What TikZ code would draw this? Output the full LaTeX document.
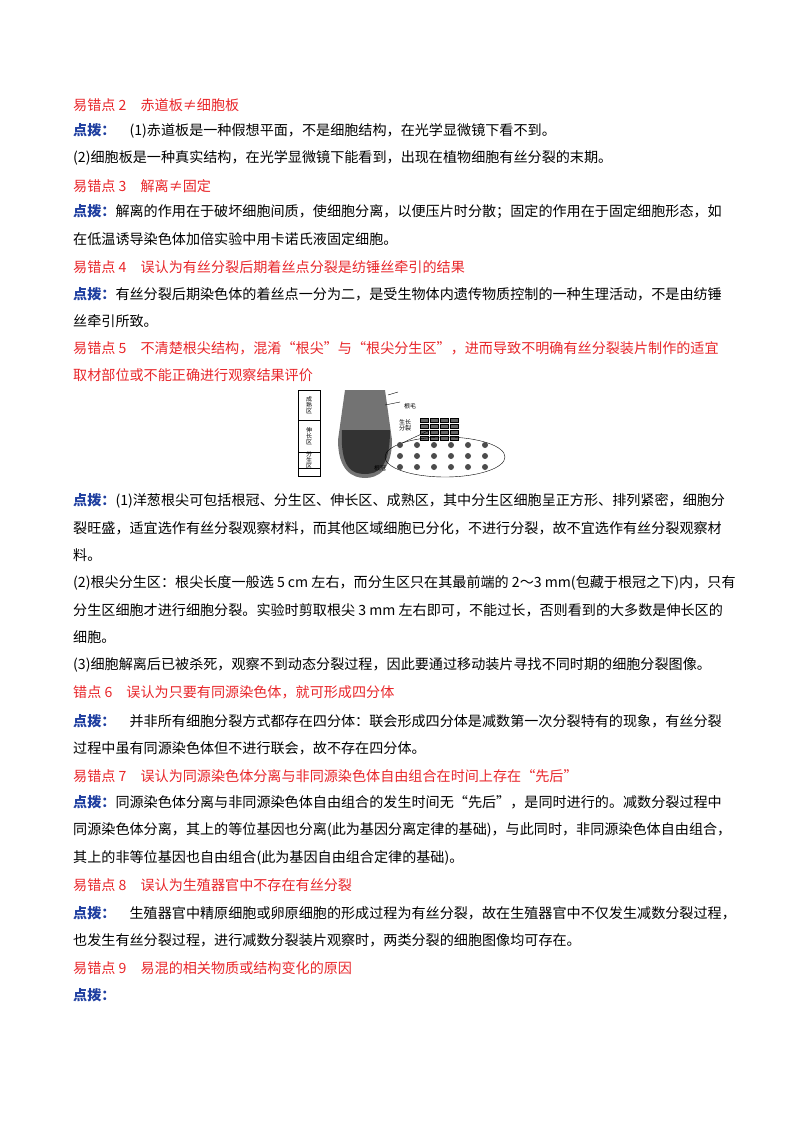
\documentclass[tikz,border=0pt]{standalone}
\usepackage{fontspec}
\setmainfont{Liberation Serif}
\newfontfamily\cjk{Noto Sans CJK SC}
\definecolor{hred}{HTML}{E8262A}
\definecolor{hblue}{HTML}{1F3FA0}
\begin{document}
\begin{tikzpicture}[x=1pt,y=-1pt,
  ln/.style={anchor=west,inner sep=0pt,font=\cjk\fontsize{14.1}{14.1}\selectfont},
  hd/.style={ln,text=hred},
  lab/.style={inner sep=0pt,font=\cjk\fontsize{6}{6}\selectfont}]
\useasboundingbox (0,0) rectangle (800,1132);
\node[hd] (h2) at (73,105) {易错点 2\quad 赤道板≠细胞板};
\node[ln] (a1) at (73,131) {\textcolor{hblue}{\bfseries 点拨：}\quad (1)赤道板是一种假想平面，不是细胞结构，在光学显微镜下看不到。};
\node[ln] (a2) at (73,158) {(2)细胞板是一种真实结构，在光学显微镜下能看到，出现在植物细胞有丝分裂的末期。};
\node[hd] (h3) at (73,186) {易错点 3\quad 解离≠固定};
\node[ln] (b1) at (73,212) {\textcolor{hblue}{\bfseries 点拨：}解离的作用在于破坏细胞间质，使细胞分离，以便压片时分散；固定的作用在于固定细胞形态，如};
\node[ln] (b2) at (73,239) {在低温诱导染色体加倍实验中用卡诺氏液固定细胞。};
\node[hd] (h4) at (73,267) {易错点 4\quad 误认为有丝分裂后期着丝点分裂是纺锤丝牵引的结果};
\node[ln] (c1) at (73,294) {\textcolor{hblue}{\bfseries 点拨：}有丝分裂后期染色体的着丝点一分为二，是受生物体内遗传物质控制的一种生理活动，不是由纺锤};
\node[ln] (c2) at (73,321) {丝牵引所致。};
\node[hd] (h5) at (73,348) {易错点 5\quad 不清楚根尖结构，混淆“根尖”与“根尖分生区”，进而导致不明确有丝分裂装片制作的适宜};
\node[hd] (h5b) at (73,375) {取材部位或不能正确进行观察结果评价};
% figure
\begin{scope}
\draw[thin] (298,390) rectangle (320,476);
\foreach \yy in {420,452,468} \draw[thin] (298,\yy) -- (320,\yy);
\node[lab,align=center] (z1) at (309,405) {成\\熟\\区};
\node[lab,align=center] (z2) at (309,436) {伸\\长\\区};
\node[lab,align=center] (z3) at (309,460) {分\\生\\区};
\fill[black!55] (345,390) -- (385,390) -- (392,440) .. controls (392,470) and (378,478) .. (365,478) .. controls (352,478) and (338,470) .. (338,440) -- cycle;
\fill[black!80] (342,430) -- (390,430) .. controls (390,468) and (378,474) .. (365,474) .. controls (352,474) and (340,468) .. (342,430) -- cycle;
\draw (385,405) -- (400,402);
\draw (388,395) -- (398,392);
\node[lab] (mh) at (410,406) {根毛};
\node[lab,align=center] (f1) at (405,425) {生长\\分裂};
\foreach \i in {0,...,3} \foreach \j in {0,...,3}
  \draw[fill=black!60] (420+\i*10,418+\j*6) rectangle +(8,4);
\draw (398,445) -- (430,430);
\draw[thin] (445,457) ellipse (60 and 20);
\foreach \i in {0,...,5} \foreach \j in {0,...,2}
  \fill[black!70] (400+\i*17,445+\j*11) circle (3);
\node[lab,align=center] (gg) at (380,468) {根冠};
\end{scope}
\node[ln] (d1) at (73,501) {\textcolor{hblue}{\bfseries 点拨：}(1)洋葱根尖可包括根冠、分生区、伸长区、成熟区，其中分生区细胞呈正方形、排列紧密，细胞分};
\node[ln] (d2) at (73,528) {裂旺盛，适宜选作有丝分裂观察材料，而其他区域细胞已分化，不进行分裂，故不宜选作有丝分裂观察材};
\node[ln] (d3) at (73,555) {料。};
\node[ln] (d4) at (73,583) {(2)根尖分生区：根尖长度一般选 5 cm 左右，而分生区只在其最前端的 2～3 mm(包藏于根冠之下)内，只有};
\node[ln] (d5) at (73,610) {分生区细胞才进行细胞分裂。实验时剪取根尖 3 mm 左右即可，不能过长，否则看到的大多数是伸长区的};
\node[ln] (d6) at (73,637) {细胞。};
\node[ln] (d7) at (73,665) {(3)细胞解离后已被杀死，观察不到动态分裂过程，因此要通过移动装片寻找不同时期的细胞分裂图像。};
\node[hd] (h6) at (73,692) {错点 6\quad 误认为只要有同源染色体，就可形成四分体};
\node[ln] (e1) at (73,721) {\textcolor{hblue}{\bfseries 点拨：}\quad 并非所有细胞分裂方式都存在四分体：联会形成四分体是减数第一次分裂特有的现象，有丝分裂};
\node[ln] (e2) at (73,748) {过程中虽有同源染色体但不进行联会，故不存在四分体。};
\node[hd] (h7) at (73,776) {易错点 7\quad 误认为同源染色体分离与非同源染色体自由组合在时间上存在“先后”};
\node[ln] (f1t) at (73,802) {\textcolor{hblue}{\bfseries 点拨：}同源染色体分离与非同源染色体自由组合的发生时间无“先后”，是同时进行的。减数分裂过程中};
\node[ln] (f2) at (73,830) {同源染色体分离，其上的等位基因也分离(此为基因分离定律的基础)，与此同时，非同源染色体自由组合，};
\node[ln] (f3) at (73,858) {其上的非等位基因也自由组合(此为基因自由组合定律的基础)。};
\node[hd] (h8) at (73,885) {易错点 8\quad 误认为生殖器官中不存在有丝分裂};
\node[ln] (g1) at (73,913) {\textcolor{hblue}{\bfseries 点拨：}\quad 生殖器官中精原细胞或卵原细胞的形成过程为有丝分裂，故在生殖器官中不仅发生减数分裂过程，};
\node[ln] (g2) at (73,940) {也发生有丝分裂过程，进行减数分裂装片观察时，两类分裂的细胞图像均可存在。};
\node[hd] (h9) at (73,968) {易错点 9\quad 易混的相关物质或结构变化的原因};
\node[ln] (h9b) at (73,995) {\textcolor{hblue}{\bfseries 点拨：}};
\end{tikzpicture}
\end{document}
